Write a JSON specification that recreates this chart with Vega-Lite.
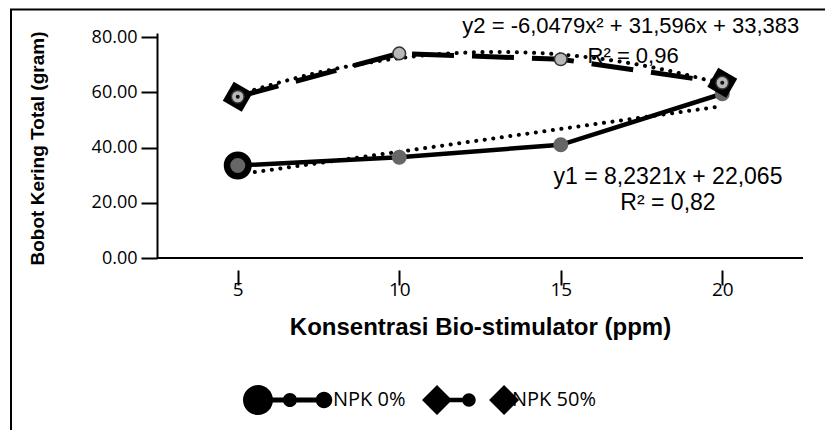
{
  "$schema": "https://vega.github.io/schema/vega-lite/v6.json",
  "width": 646,
  "height": 225,
  "autosize": {"type": "none"},
  "padding": {"left": 157, "top": 33, "right": 22, "bottom": 172},
  "background": "white",
  "config": {"view": {"stroke": null}, "axis": {"grid": false}},
  "datasets": {
    "obs": [
      {"x": 5, "y": 33.5, "series": "NPK 0%"},
      {"x": 10, "y": 36.5, "series": "NPK 0%"},
      {"x": 15, "y": 41.0, "series": "NPK 0%"},
      {"x": 20, "y": 59.5, "series": "NPK 0%"},
      {"x": 5, "y": 58.4, "series": "NPK 50%"},
      {"x": 10, "y": 74.1, "series": "NPK 50%"},
      {"x": 15, "y": 72.0, "series": "NPK 50%"},
      {"x": 20, "y": 63.5, "series": "NPK 50%"}
    ]
  },
  "data": {"name": "obs"},
  "layer": [
    {
      "transform": [{"filter": "datum.series === 'NPK 0%'"}],
      "mark": {"type": "line", "color": "black", "strokeWidth": 4.5},
      "encoding": {
        "x": {
          "field": "x", "type": "quantitative",
          "scale": {"domain": [2.5, 22.5], "nice": false, "zero": false},
          "axis": {
            "title": "Konsentrasi Bio-stimulator (ppm)",
            "values": [5, 10, 15, 20],
            "domain": false,
            "offset": 12,
            "tickSize": 15, "tickWidth": 2, "tickColor": "black",
            "labelFont": "Open Sans", "labelFontSize": 19, "labelColor": "black",
            "labelPadding": -5, "labelDx": 5,
            "titleFont": "Liberation Sans", "titleFontSize": 24, "titleFontWeight": "bold", "titleColor": "black",
            "titleY": 57, "titleBaseline": "middle"
          }
        },
        "y": {
          "field": "y", "type": "quantitative",
          "scale": {"domain": [0, 81.5], "nice": false},
          "axis": {
            "title": "Bobot Kering Total (gram)",
            "values": [0, 10, 20, 30, 40, 50, 60, 70, 80],
            "labelExpr": "datum.value % 20 === 0 ? format(datum.value, '.2f') : ''",
            "domainColor": "black", "domainWidth": 2,
            "tickSize": 16, "tickWidth": 2, "tickColor": "black",
            "labelFont": "Open Sans", "labelFontSize": 18, "labelColor": "black", "labelPadding": 4,
            "titleFont": "Liberation Sans", "titleFontSize": 19, "titleFontWeight": "bold", "titleColor": "black",
            "titleX": -120, "titleY": 115, "titleBaseline": "middle", "titleAlign": "center", "titleAngle": 270
          }
        }
      }
    },
    {
      "data": {"values": [{}]},
      "mark": {"type": "rect", "fill": "transparent", "stroke": "black", "strokeWidth": 2, "clip": false},
      "encoding": {
        "x": {"datum": -2.02, "type": "quantitative"},
        "x2": {"datum": 40},
        "y": {"datum": 90, "type": "quantitative"},
        "y2": {"datum": -80}
      }
    },
    {
      "data": {"values": [{}]},
      "mark": {"type": "rule", "color": "black", "strokeWidth": 2},
      "encoding": {"y": {"datum": 0, "type": "quantitative"}}
    },
    {
      "transform": [{"filter": "datum.series === 'NPK 50%'"}],
      "mark": {"type": "line", "color": "black", "strokeWidth": 5, "strokeDash": [42, 18]},
      "encoding": {
        "x": {"field": "x", "type": "quantitative"},
        "y": {"field": "y", "type": "quantitative"}
      }
    },
    {
      "transform": [
        {"filter": "datum.series === 'NPK 0%'"},
        {"regression": "y", "on": "x", "method": "linear", "extent": [5, 20]}
      ],
      "mark": {"type": "line", "color": "black", "strokeWidth": 4, "strokeDash": [0.1, 8.5], "strokeCap": "round"},
      "encoding": {
        "x": {"field": "x", "type": "quantitative"},
        "y": {"field": "y", "type": "quantitative"}
      }
    },
    {
      "transform": [
        {"filter": "datum.series === 'NPK 50%'"},
        {"regression": "y", "on": "x", "method": "poly", "order": 2, "extent": [5, 20]}
      ],
      "mark": {"type": "line", "color": "black", "strokeWidth": 4, "strokeDash": [0.1, 8.5], "strokeCap": "round"},
      "encoding": {
        "x": {"field": "x", "type": "quantitative"},
        "y": {"field": "y", "type": "quantitative"}
      }
    },
    {
      "transform": [{"filter": "datum.series === 'NPK 0%' && datum.x === 5"}],
      "mark": {"type": "point", "shape": "circle", "filled": true, "fill": "#666666", "stroke": "black", "strokeWidth": 6.5, "size": 462, "opacity": 1},
      "encoding": {
        "x": {"field": "x", "type": "quantitative"},
        "y": {"field": "y", "type": "quantitative"}
      }
    },
    {
      "transform": [{"filter": "datum.series === 'NPK 0%' && datum.x !== 5"}],
      "mark": {"type": "point", "shape": "circle", "filled": true, "color": "#666666", "size": 225, "opacity": 1},
      "encoding": {
        "x": {"field": "x", "type": "quantitative"},
        "y": {"field": "y", "type": "quantitative"}
      }
    },
    {
      "transform": [{"filter": "datum.series === 'NPK 50%' && (datum.x === 5 || datum.x === 20)"}],
      "mark": {"type": "point", "shape": "square", "angle": 30, "filled": true, "color": "black", "size": 480, "opacity": 1},
      "encoding": {
        "x": {"field": "x", "type": "quantitative"},
        "y": {"field": "y", "type": "quantitative"}
      }
    },
    {
      "transform": [{"filter": "datum.series === 'NPK 50%'"}],
      "mark": {"type": "point", "shape": "circle", "filled": true, "fill": "#b8b8b8", "stroke": "#333333", "strokeWidth": 1.5, "size": 160, "opacity": 1},
      "encoding": {
        "x": {"field": "x", "type": "quantitative"},
        "y": {"field": "y", "type": "quantitative"}
      }
    },
    {
      "transform": [{"filter": "datum.series === 'NPK 50%' && (datum.x === 5 || datum.x === 20)"}],
      "mark": {"type": "point", "shape": "circle", "filled": true, "color": "#111111", "size": 16, "opacity": 1},
      "encoding": {
        "x": {"field": "x", "type": "quantitative"},
        "y": {"field": "y", "type": "quantitative"}
      }
    },
    {
      "mark": {"type": "point", "filled": true, "color": "black", "opacity": 0},
      "encoding": {
        "x": {"field": "x", "type": "quantitative"},
        "y": {"field": "y", "type": "quantitative"},
        "shape": {
          "field": "series", "type": "nominal",
          "scale": {
            "domain": ["NPK 0%", "NPK 50%"],
            "range": [
              "M-1,0A1,1,0,1,1,1,0A1,1,0,1,1,-1,0ZM0.9,-0.17H4.2V0.17H0.9ZM1.66,0A0.47,0.47,0,1,1,2.6,0A0.47,0.47,0,1,1,1.66,0ZM3.85,0A0.55,0.55,0,1,1,4.95,0A0.55,0.55,0,1,1,3.85,0Z",
              "M0,-1L1,0L0,1L-1,0ZM0.8,-0.15H2.2V0.15H0.8ZM1.68,0A0.45,0.45,0,1,1,2.58,0A0.45,0.45,0,1,1,1.68,0ZM4.47,-1L5.47,0L4.47,1L3.47,0Z"
            ]
          },
          "legend": {
            "orient": "none", "legendX": 86, "legendY": 352, "direction": "horizontal",
            "title": null, "padding": 0,
            "symbolSize": 900, "symbolFillColor": "black", "symbolStrokeWidth": 0, "symbolOpacity": 1,
            "labelFont": "Open Sans", "labelFontSize": 20, "labelColor": "black",
            "labelOffset": 60, "columnPadding": 16
          }
        }
      }
    },
    {
      "data": {"values": [{}]},
      "mark": {"type": "text", "font": "Liberation Sans", "fontSize": 22, "color": "black", "align": "center", "baseline": "middle", "clip": false},
      "encoding": {
        "x": {"datum": 17.17, "type": "quantitative"},
        "y": {"datum": 84.1, "type": "quantitative"},
        "text": {"value": "y2 = -6,0479x² + 31,596x + 33,383"}
      }
    },
    {
      "data": {"values": [{}]},
      "mark": {"type": "text", "font": "Liberation Sans", "fontSize": 22, "color": "black", "align": "center", "baseline": "middle", "clip": false},
      "encoding": {
        "x": {"datum": 17.24, "type": "quantitative"},
        "y": {"datum": 73.2, "type": "quantitative"},
        "text": {"value": "R² = 0,96"}
      }
    },
    {
      "data": {"values": [{}]},
      "mark": {"type": "text", "font": "Liberation Sans", "fontSize": 23, "color": "black", "align": "center", "baseline": "middle", "clip": false},
      "encoding": {
        "x": {"datum": 18.32, "type": "quantitative"},
        "y": {"datum": 29.3, "type": "quantitative"},
        "text": {"value": "y1 = 8,2321x + 22,065"}
      }
    },
    {
      "data": {"values": [{}]},
      "mark": {"type": "text", "font": "Liberation Sans", "fontSize": 23, "color": "black", "align": "center", "baseline": "middle", "clip": false},
      "encoding": {
        "x": {"datum": 18.32, "type": "quantitative"},
        "y": {"datum": 19.9, "type": "quantitative"},
        "text": {"value": "R² = 0,82"}
      }
    }
  ]
}
